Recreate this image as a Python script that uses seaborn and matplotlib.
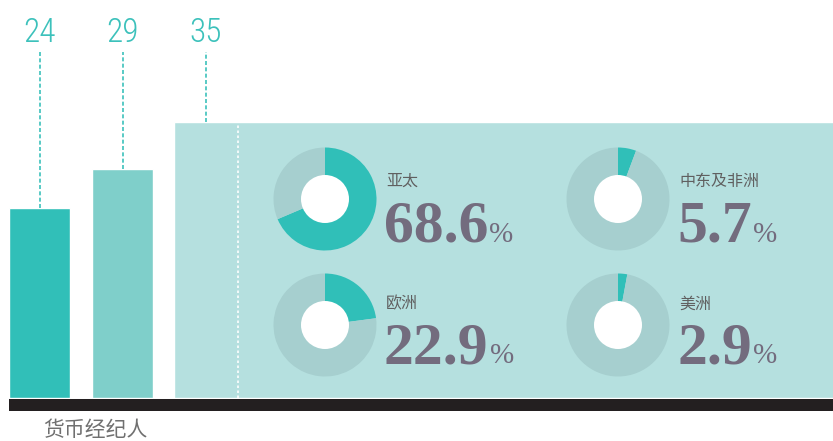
import matplotlib
matplotlib.use("Agg")
import matplotlib.pyplot as plt
import seaborn as sns
import pandas as pd
from matplotlib import font_manager as fm
from matplotlib.patches import Circle

# ---------------------------------------------------------
# Data
# ---------------------------------------------------------
bar_keys = ["a", "b", "c"]
bar_values = [24, 29, 35]
bar_labels = ["24", "29", "35"]
category_label = "货币经纪人"

regions = ["亚太", "中东及非洲", "欧洲", "美洲"]
region_shares = [68.6, 5.7, 22.9, 2.9]
share_labels = ["68.6", "5.7", "22.9", "2.9"]

# ---------------------------------------------------------
# Style
# ---------------------------------------------------------
sns.set_style("white")
plt.rcParams['font.family'] = ['Noto Sans CJK SC', 'DejaVu Sans']

TEAL = "#30bfb8"
bar_colors = ["#31bfb8", "#7fcfca", "#b5e0df"]
RING_REST = "#a6cfcf"
NUM_COLOR = "#736c7e"
LABEL_TEAL = "#3cc1bb"


def pick_narrow_font():
    """Find a thin / narrow sans for the value labels, if one is installed."""
    fonts = fm.fontManager.ttflist
    for fam in ["Roboto Condensed", "Liberation Sans Narrow", "Open Sans Condensed",
                "Noto Sans Display", "DejaVu Sans"]:
        entries = [f for f in fonts if f.name == fam]
        if not entries:
            continue
        stretch = "condensed" if any(f.stretch in ("condensed", "semi-condensed", 
                                     "extra-condensed") for f in entries) else "normal"
        light = any((isinstance(f.weight, int) and f.weight <= 300) or
                    f.weight in ("light", "ultralight", "extra light") for f in entries)
        return fam, stretch, ("light" if light else "normal")
    return "DejaVu Sans", "normal", "normal"


value_family, value_stretch, value_weight = pick_narrow_font()

W, H = 833, 441
PX_PER_UNIT = 7.9       # vertical scale of the bars
STEP = 83.0             # horizontal distance between bar centres
X0 = 39.5               # centre of first bar (pixels)

fig = plt.figure(figsize=(W / 100, H / 100), dpi=100)
ax = fig.add_axes([9 / W, (H - 411) / H, (W - 9) / W, 411 / H])

df = pd.DataFrame({"key": bar_keys, "value": bar_values})
sns.barplot(data=df, x="key", y="value", hue="key", palette=bar_colors,
            width=61 / STEP, saturation=1, legend=False, ax=ax)

# last bar runs out to the right edge as the panel for the donuts
ax.patches[2].set_x(2 - 31.5 / STEP)
ax.patches[2].set_width(20)

ax.set_xlim((9 - X0) / STEP, (W - X0) / STEP)
ax.set_ylim(-13 / PX_PER_UNIT, 398 / PX_PER_UNIT)
ax.axis("off")

# black base
ax.axhspan(-13 / PX_PER_UNIT, -1 / PX_PER_UNIT, color="#231f20", lw=0)

# dashed leaders + value labels
top_level = (398 - 52) / PX_PER_UNIT
for i, (v, lab) in enumerate(zip(bar_values, bar_labels)):
    ax.vlines(i, v, top_level, colors=LABEL_TEAL, lw=1.2,
              linestyles=(0, (2.4, 1.4)))
    ax.text(i, (398 - 42) / PX_PER_UNIT, lab, ha="center", va="baseline",
            fontsize=24 if value_stretch == "condensed" else 19,
            color=LABEL_TEAL, family=[value_family, "DejaVu Sans"],
            fontstretch=value_stretch, fontweight=value_weight)

# white dotted line inside the panel
ax.vlines(2 + 0.39, 0, bar_values[2] - 0.15, colors="white", lw=1.2,
          linestyles=(0, (1.5, 1.5)))

fig.text(95 / W, 1 - 430 / H, category_label, ha="center", va="center",
         fontsize=15, color="#707070", fontweight="light")

# ---------------------------------------------------------
# Donuts
# ---------------------------------------------------------
centers = [(325, 199), (618, 199), (325, 325), (618, 325)]
label_y = [181.5, 181.5, 304, 304]
base_y = [241.5, 241.5, 363, 363]
R, R_IN = 51.5, 24

fig.canvas.draw()
renderer = fig.canvas.get_renderer()
for (cx, cy), name, share, txt, ly, by in zip(centers, regions, region_shares,
                                              share_labels, label_y, base_y):
    dax = fig.add_axes([(cx - R) / W, (H - cy - R) / H, 2 * R / W, 2 * R / H])
    dax.pie([share, 100 - share], colors=[TEAL, RING_REST], startangle=90,
            counterclock=False, radius=1, wedgeprops=dict(linewidth=0))
    dax.add_patch(Circle((0, 0), R_IN / R, color="white", lw=0))
    dax.set_xlim(-1, 1)
    dax.set_ylim(-1, 1)
    dax.set_aspect("equal")
    dax.axis("off")

    fig.text((cx + 61) / W, 1 - ly / H, name, ha="left", va="center",
             fontsize=11.5, color="#606060", fontweight="light")
    t = fig.text((cx + 59) / W, 1 - by / H, txt, ha="left", va="baseline",
                 fontsize=43, color=NUM_COLOR, fontweight="bold",
                 family=["Liberation Serif", "DejaVu Serif"])
    bb = t.get_window_extent(renderer=renderer)
    fig.text((bb.x1 + 1) / W, 1 - by / H, "%", ha="left", va="baseline",
             fontsize=21, color=NUM_COLOR,
             family=["Liberation Serif", "DejaVu Serif"])

fig.savefig("out.png", dpi=100)
